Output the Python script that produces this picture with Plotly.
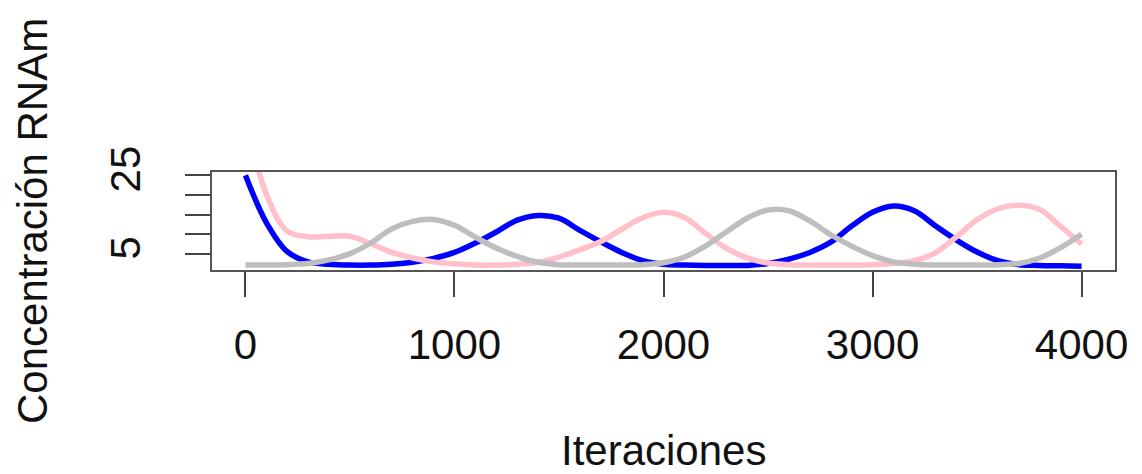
import plotly.graph_objects as go

iteraciones = list(range(0, 4001, 100))

azul = [25.0, 13.0, 5.6, 3.0, 2.4, 2.2, 2.2,
        2.4, 2.9, 3.9, 5.4, 7.8, 10.6, 13.6, 14.8, 14.1, 11.0, 8.1,
        5.4, 3.3, 2.4, 2.2, 2.1, 2.1, 2.1, 2.6, 3.7, 5.4,
        8.0, 12.1, 15.6, 17.2, 16.0, 12.2, 8.6, 5.5, 3.3, 2.3,
        2.1, 2.0, 1.9]

rosa = [40.0, 20.2, 10.8, 9.4, 9.5, 9.5, 7.6,
        5.4, 4.0, 3.0, 2.5, 2.2, 2.2, 2.4, 2.9, 4.2, 6.1, 8.2,
        11.3, 14.2, 15.6, 14.3, 10.3, 6.5, 4.0, 2.7, 2.3, 2.2,
        2.2, 2.2, 2.3, 2.6, 3.3, 5.3, 9.3, 13.7, 16.5, 17.4,
        16.3, 12.0, 7.5]

gris = [2.2, 2.2, 2.3, 2.6, 3.5, 5.1, 7.8,
        11.4, 13.3, 13.8, 12.3, 9.3, 6.5, 4.4, 2.9, 2.3, 2.2, 2.2,
        2.2, 2.3, 2.8, 4.2, 7.0, 10.6, 14.1, 16.2, 16.0, 13.4,
        9.9, 7.0, 4.6, 3.0, 2.4, 2.2, 2.2, 2.2, 2.3, 2.6,
        4.0, 6.6, 10.0]

x_ticks = [0, 1000, 2000, 3000, 4000]
y_ticks = [5, 10, 15, 20, 25]
y_ticktext = ["5", "", "", "", "25"]

FONT = "Liberation Sans, Arial, sans-serif"

fig = go.Figure()
for vals, col in [(azul, "blue"), (rosa, "pink"), (gris, "#BEBEBE")]:
    fig.add_trace(go.Scatter(x=iteraciones, y=vals, mode="lines",
                             line=dict(color=col, width=5.5, shape="spline", smoothing=1.0),
                             showlegend=False, hoverinfo="skip"))

axis_common = dict(showline=True, mirror=True, linecolor="#555555", linewidth=1.5,
                   showgrid=False, zeroline=False, ticks="outside", ticklen=25,
                   tickwidth=1.5, tickcolor="#444444",
                   tickfont=dict(family=FONT, size=42, color="#111111"))

fig.update_layout(
    width=1142, height=474,
    margin=dict(l=212, r=27, t=172, b=204),
    paper_bgcolor="white", plot_bgcolor="white",
    xaxis=dict(range=[-160, 4160], tickvals=x_ticks, ticktext=[str(v) for v in x_ticks],
               ticklabelstandoff=12, **axis_common),
    yaxis=dict(range=[0.94, 25.84], tickvals=y_ticks, ticktext=y_ticktext,
               tickangle=-90, ticklabelstandoff=28, **axis_common),
    annotations=[
        dict(text="Iteraciones", xref="paper", yref="paper", x=0.5, y=(270 - 450) / 98,
             xanchor="center", yanchor="middle", showarrow=False,
             font=dict(family=FONT, size=42, color="#111111")),
        dict(text="Concentración RNAm", xref="paper", yref="paper", x=(32 - 212) / 903,
             y=0.5, xanchor="center", yanchor="middle", textangle=-90, showarrow=False,
             font=dict(family=FONT, size=42, color="#111111")),
    ],
)

fig.write_html("out.html")
